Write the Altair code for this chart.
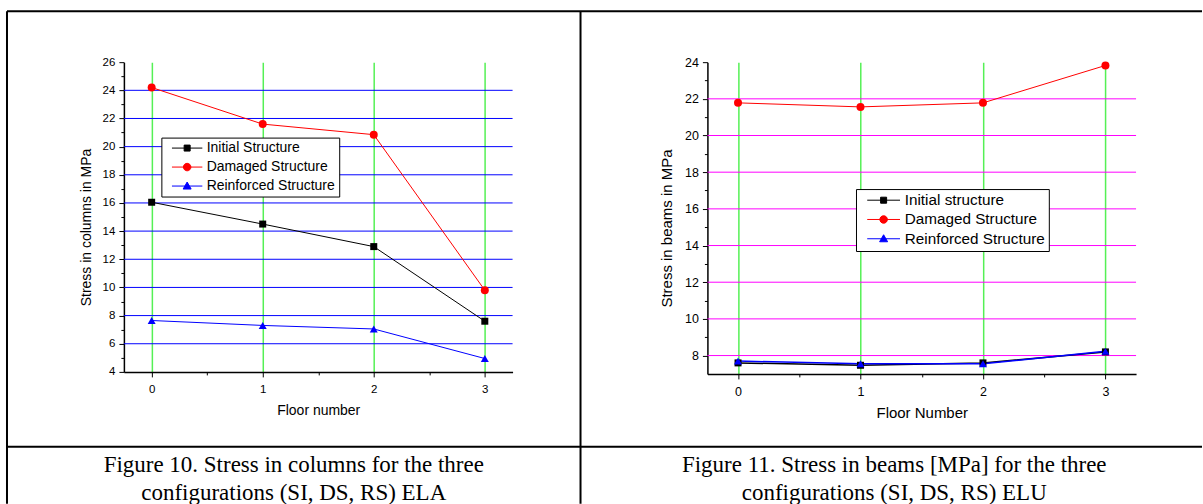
import altair as alt
import pandas as pd

# ---------------- data ----------------
floors = [0, 1, 2, 3]

col_names = ["Initial Structure", "Damaged Structure", "Reinforced Structure"]
col_initial = [16.05, 14.5, 12.9, 7.6]
col_damaged = [24.2, 21.6, 20.85, 9.8]
col_reinforced = [7.65, 7.3, 7.05, 4.95]

beam_names = ["Initial structure", "Damaged Structure", "Reinforced Structure"]
beam_initial = [7.6, 7.47, 7.6, 8.2]
beam_damaged = [21.78, 21.56, 21.78, 23.82]
beam_reinforced = [7.7, 7.55, 7.55, 8.23]

x_ticks = [0, 1, 2, 3]
x_minor = [0.5, 1.5, 2.5]
col_y_ticks = [4, 6, 8, 10, 12, 14, 16, 18, 20, 22, 24, 26]
col_y_minor = [5, 7, 9, 11, 13, 15, 17, 19, 21, 23, 25]
col_grid = [6, 8, 10, 12, 14, 16, 18, 20, 22, 24]
beam_y_ticks = [8, 10, 12, 14, 16, 18, 20, 22, 24]
beam_y_minor = [9, 11, 13, 15, 17, 19, 21, 23]
beam_grid = [8, 10, 12, 14, 16, 18, 20, 22]

caption_left = ["Figure 10. Stress in columns for the three",
                "configurations (SI, DS, RS) ELA"]
caption_right = ["Figure 11. Stress in beams [MPa] for the three",
                 "configurations (SI, DS, RS) ELU"]

series_colors = ["#000000", "#ff0000", "#0000ff"]
marker_shapes = ["square", "circle", "triangle-up"]
marker_sizes = [49, 64, 64]
GREEN = "#55f055"
SANS = "Liberation Sans"
SERIF = "Liberation Serif"


def legend_paths(L):
    return [
        f"M{-L},0H{L}M-0.75,-0.75H0.75V0.75H-0.75Z",
        f"M{-L},0H{L}M-0.94,0A0.94,0.94,0,1,0,0.94,0A0.94,0.94,0,1,0,-0.94,0Z",
        f"M{-L},0H{L}M0,-1L1,0.75L-1,0.75Z",
    ]


def long_df(names, values):
    rows = []
    for n, vals in zip(names, values):
        for f, v in zip(floors, vals):
            rows.append({"floor": f, "value": v, "series": n})
    return pd.DataFrame(rows)


def panel(names, values, ydom, yticks, yminor, grid, grid_color, xtitle, ytitle,
          W, H, fs_tick, fs_title, ytx, yty, leg, line_widths, decor):
    df = long_df(names, values)
    xs = alt.Scale(domain=[-0.25, 3.25], nice=False, zero=False)
    ys = alt.Scale(domain=ydom, nice=False, zero=False)
    base = alt.Chart(df)

    hgrid = alt.Chart(pd.DataFrame({"g": grid})).mark_rule(
        color=grid_color, strokeWidth=1).encode(
        y=alt.Y("g:Q", scale=ys, axis=None))

    legend = alt.Legend(
        orient="none", legendX=leg["x"], legendY=leg["y"], title=None,
        direction="vertical", strokeColor="black", fillColor="white",
        padding=leg["pad"], symbolSize=64, symbolStrokeWidth=1,
        symbolOffset=leg["so"], labelOffset=leg["lo"], rowPadding=leg["rp"],
        labelFont=SANS, labelFontSize=leg["fs"], labelColor="black", labelLimit=0)

    axis_layer = base.mark_point(filled=True, size=64, strokeWidth=1, opacity=1).encode(
        x=alt.X("floor:Q", scale=xs, axis=alt.Axis(
            orient="bottom", values=x_ticks, format="d", grid=True, gridColor=GREEN,
            gridWidth=1.5, domainColor="black", domainWidth=1.5, tickColor="black",
            tickWidth=1, tickSize=5, labelPadding=7, labelFont=SANS,
            labelFontSize=fs_tick, labelColor="black", title=xtitle, titleFont=SANS,
            titleFontSize=fs_title, titleFontWeight="normal", titleColor="black",
            titleY=39, titleBaseline="middle")),
        y=alt.Y("value:Q", scale=ys, axis=alt.Axis(
            orient="left", values=yticks, grid=False, domainColor="black",
            domainWidth=1.5, tickColor="black", tickWidth=1, tickSize=5,
            labelPadding=4, labelFont=SANS, labelFontSize=fs_tick, labelColor="black",
            title=ytitle, titleFont=SANS, titleFontSize=fs_title,
            titleFontWeight="normal", titleColor="black", titleX=ytx, titleY=yty,
            titleAngle=270, titleAlign="center", titleBaseline="middle")),
        color=alt.Color("series:N", scale=alt.Scale(domain=names, range=series_colors),
                        legend=legend),
        stroke=alt.Stroke("series:N", scale=alt.Scale(domain=names, range=series_colors),
                          legend=legend),
        shape=alt.Shape("series:N", scale=alt.Scale(domain=names, range=legend_paths(leg["L"])),
                        legend=legend),
    ).transform_filter("false")

    minor = base.mark_point(opacity=0).encode(
        x=alt.X("floor:Q", scale=xs, axis=alt.Axis(
            orient="bottom", values=x_minor, labels=False, domain=False, grid=False,
            tickColor="black", tickSize=3, tickWidth=1, title=None)),
        y=alt.Y("value:Q", scale=ys, axis=alt.Axis(
            orient="left", values=yminor, labels=False, domain=False, grid=False,
            tickColor="black", tickSize=3, tickWidth=1, title=None)),
    ).transform_filter("false")

    lines, points = [], []
    for n, c, shp, sz, lw in zip(names, series_colors, marker_shapes, marker_sizes, line_widths):
        sub = base.transform_filter(alt.datum.series == n)
        lines.append(sub.mark_line(color=c, strokeWidth=lw).encode(
            x=alt.X("floor:Q", scale=xs, axis=None),
            y=alt.Y("value:Q", scale=ys, axis=None)))
        points.append(sub.mark_point(filled=True, shape=shp, size=sz, color=c,
                                     opacity=1, strokeWidth=0).encode(
            x=alt.X("floor:Q", scale=xs, axis=None),
            y=alt.Y("value:Q", scale=ys, axis=None)))

    return alt.layer(hgrid, axis_layer, minor, *lines, *points, *decor).resolve_axis(
        x="independent", y="independent").properties(width=W, height=H)


one = pd.DataFrame({"k": [0]})


def hline(x1, x2, y):
    return alt.Chart(one).mark_rule(color="black", strokeWidth=2).encode(
        x=alt.value(x1), x2=alt.value(x2), y=alt.value(y))


def vline(x, y1, y2):
    return alt.Chart(one).mark_rule(color="black", strokeWidth=2).encode(
        x=alt.value(x), y=alt.value(y1), y2=alt.value(y2))


def caption(x, y, lines):
    return alt.Chart(one).mark_text(
        font=SERIF, fontSize=23, align="center", baseline="alphabetic",
        lineHeight=28, color="black").encode(
        x=alt.value(x), y=alt.value(y), text=alt.value(lines))


# left panel origin on page: (124, 62)
decor_left = [
    hline(-117, 1079, -51),
    vline(-117, -51, 442),
    vline(457, -51, 442),
    hline(-117, 1079, 385),
    caption(170, 410, caption_left),
]
decor_right = [caption(187, 410, caption_right)]

left = panel(col_names, [col_initial, col_damaged, col_reinforced], [4, 26],
             col_y_ticks, col_y_minor, col_grid, "#0000ff", "Floor number",
             "Stress in columns in MPa", 389, 310, 11.5, 14, -37, 165,
             dict(x=37.5, y=75.5, pad=3.5, so=15.3, lo=12.5, rp=5, fs=14, L=3.8),
             [1, 1, 1], decor_left)

right = panel(beam_names, [beam_initial, beam_damaged, beam_reinforced], [7, 24],
              beam_y_ticks, beam_y_minor, beam_grid, "#ff00ff", "Floor Number",
              "Stress in beams in MPa", 429, 312, 12.5, 15, -41, 166,
              dict(x=148.7, y=127, pad=3.5, so=16.5, lo=13.5, rp=3.3, fs=15.3, L=4.1),
              [1.5, 1, 1.5], decor_right)

chart = alt.hconcat(left, right, spacing=195, bounds="flush").resolve_scale(
    color="independent", stroke="independent", shape="independent"
).resolve_legend(
    color="independent", stroke="independent", shape="independent"
).properties(
    padding={"left": 6, "top": 10, "right": 0, "bottom": 0}
).configure_view(stroke=None)

chart.save("out.html", embed_options={"renderer": "svg", "actions": False})
